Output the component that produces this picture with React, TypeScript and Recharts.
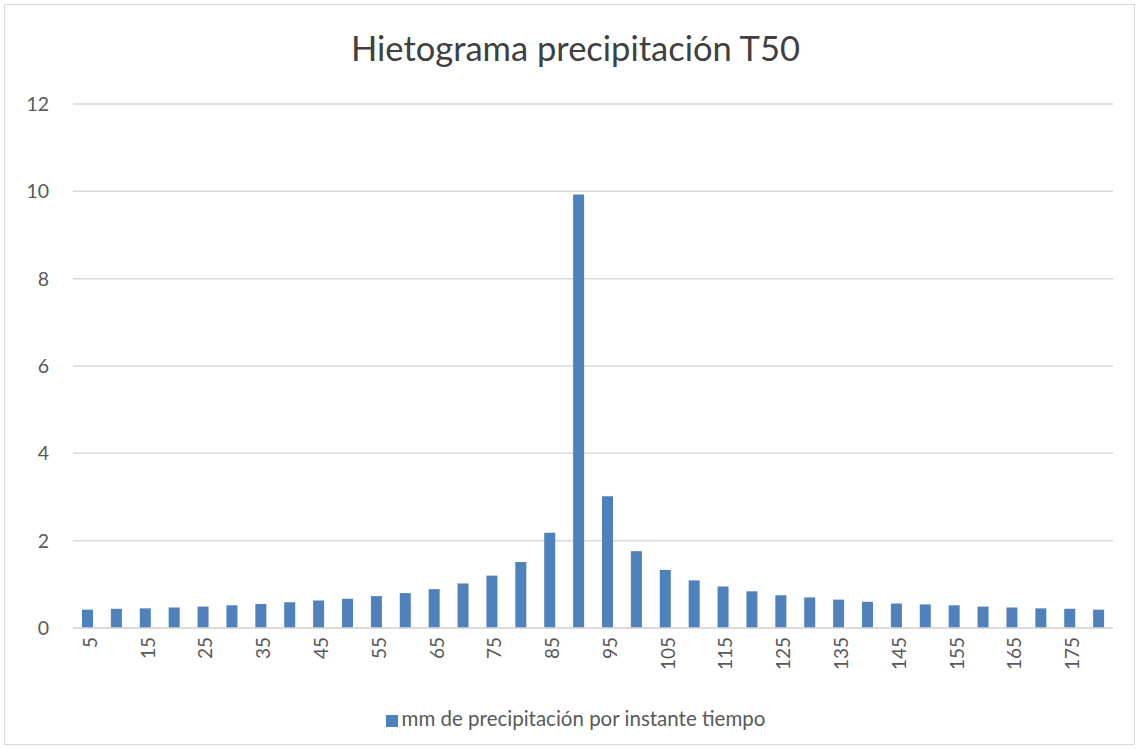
import React from "react";
import { BarChart, Bar, XAxis, YAxis, CartesianGrid, Legend } from "recharts";

const minutes = [
  5, 10, 15, 20, 25, 30, 35, 40, 45, 50, 55, 60, 65, 70, 75, 80, 85, 90,
  95, 100, 105, 110, 115, 120, 125, 130, 135, 140, 145, 150, 155, 160, 165, 170, 175, 180,
];
const rainfall = [
  0.42, 0.44, 0.45, 0.47, 0.49, 0.52, 0.55, 0.59, 0.63, 0.67, 0.73, 0.8, 0.89, 1.02, 1.2, 1.51, 2.18, 9.93,
  3.02, 1.76, 1.33, 1.09, 0.95, 0.84, 0.75, 0.7, 0.65, 0.6, 0.56, 0.54, 0.52, 0.49, 0.47, 0.45, 0.44, 0.42,
];
const yTicks = [0, 2, 4, 6, 8, 10, 12];

const data = minutes.map((m, i) => ({ t: m, mm: rainfall[i] }));

const font = "Lato, 'Open Sans', sans-serif";

const App: React.FC = () => {
  return (
    <div
      style={{
        position: "absolute",
        left: 0,
        top: 0,
        width: 1143,
        height: 749,
        background: "#fff",
        fontFamily: font,
      }}
    >
      <div
        style={{
          position: "absolute",
          left: 4,
          top: 4,
          width: 1131,
          height: 741,
          border: "1px solid #d9d9d9",
          boxSizing: "border-box",
        }}
      />
      <div
        style={{
          position: "absolute",
          top: 26,
          left: 4,
          width: 1143,
          textAlign: "center",
          fontSize: 34.5,
          lineHeight: "44px",
          color: "#404040",
        }}
      >
        Hietograma precipitación T50
      </div>
      <BarChart
        width={1143}
        height={749}
        data={data}
        margin={{ top: 104, right: 30, left: 0, bottom: 37 }}
        barSize={11}
        style={{ position: "absolute", left: 0, top: 0 }}
      >
        <CartesianGrid vertical={false} stroke="#d9d9d9" strokeWidth={1.5} />
        <XAxis
          dataKey="t"
          interval={1}
          height={60}
          tickLine={false}
          axisLine={{ stroke: "#d9d9d9", strokeWidth: 1.5 }}
          tick={{ fill: "#595959", fontSize: 19, fontFamily: font }}
          angle={-90}
          textAnchor="end"
          dy={-9}
          dx={-4}
          tickMargin={12}
        />
        <YAxis
          width={73}
          domain={[0, 12]}
          ticks={yTicks}
          axisLine={false}
          tickLine={false}
          tickSize={0}
          tickMargin={24}
          tick={{ fill: "#595959", fontSize: 19.5, fontFamily: font }}
        />
        <Legend
          verticalAlign="bottom"
          align="center"
          iconType="square"
          iconSize={12}
          wrapperStyle={{ bottom: 19, left: 24, height: 24, lineHeight: "24px", fontSize: 20.5, fontFamily: font }}
          formatter={(v) => <span style={{ color: "#595959" }}>{v}</span>}
        />
        <Bar
          dataKey="mm"
          name="mm de precipitación por instante tiempo"
          fill="#4f81bd"
          isAnimationActive={false}
        />
      </BarChart>
    </div>
  );
};

export default App;
